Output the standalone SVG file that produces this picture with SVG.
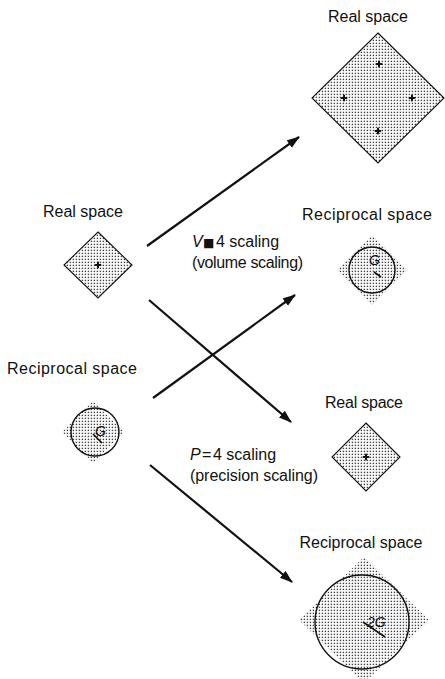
<svg xmlns="http://www.w3.org/2000/svg" width="445" height="679" viewBox="0 0 445 679">
<style>
  .lbl { font-family: "Liberation Sans", "DejaVu Sans", sans-serif; font-size: 16px; fill: #111; }
  .mid { text-anchor: middle; }
  .it { font-style: italic; }
  .g { font-family: "Liberation Sans", "DejaVu Sans", sans-serif; font-size: 14px; font-style: italic; fill: #111; }
  .real { fill: url(#stip); stroke: #111; stroke-width: 1.1; }
  .recip { fill: url(#stip); stroke: none; }
  .ring { fill: none; stroke: #111; stroke-width: 1.4; }
  .rad { stroke: #111; stroke-width: 1.6; }
  .pt { stroke: #111; stroke-width: 2; stroke-linecap: round; }
  .arr { stroke: #111; stroke-width: 2.2; fill: none; marker-end: url(#ah); }
</style>
<defs>
  <pattern id="stip" width="3" height="3" patternUnits="userSpaceOnUse">
    <rect x="0.7" y="0.7" width="1.4" height="1.4" fill="#444"/>
  </pattern>
  <marker id="ah" markerUnits="userSpaceOnUse" markerWidth="14" markerHeight="10" refX="12" refY="4.5" orient="auto">
    <path d="M0,0 L13,4.5 L0,9 z" fill="#111"/>
  </marker>
  <g id="dot">
    <path class="pt" d="M-2.5,0 H2.5 M0,-2.5 V2.5"/>
    <circle r="1.3" fill="#111"/>
  </g>
</defs>

<g id="connectors">
  <line class="arr" x1="147" y1="246" x2="299" y2="137"/>
  <line class="arr" x1="149" y1="300" x2="291" y2="422"/>
  <line class="arr" x1="153" y1="398" x2="295" y2="295"/>
  <line class="arr" x1="150" y1="465" x2="292" y2="582"/>
</g>

<g id="real-left">
  <text class="lbl mid" x="83" y="217" textLength="80">Real space</text>
  <path class="real" d="M98,232 L132,265 L98,298 L64,265 Z"/>
  <use href="#dot" x="98" y="265"/>
</g>

<g id="recip-left">
  <text class="lbl mid" x="72" y="374" textLength="130">Reciprocal space</text>
  <path class="recip" d="M93,401 L124,432 L93,463 L62,432 Z"/>
  <circle class="ring" cx="95" cy="432" r="24"/>
  <line class="rad" x1="93" y1="434" x2="102" y2="443"/>
  <text class="g" x="95" y="436">G</text>
</g>

<g id="real-top">
  <text class="lbl mid" x="368" y="22" textLength="80">Real space</text>
  <path class="real" d="M378,33 L444,98 L378,163 L312,98 Z"/>
  <use href="#dot" x="379" y="64"/>
  <use href="#dot" x="344" y="98"/>
  <use href="#dot" x="412" y="98"/>
  <use href="#dot" x="378" y="131"/>
</g>

<g id="recip-top">
  <text class="lbl mid" x="367" y="220" textLength="130">Reciprocal space</text>
  <path class="recip" d="M372,235 L407,270 L372,305 L337,270 Z"/>
  <circle class="ring" cx="372" cy="270" r="23"/>
  <line class="rad" x1="374" y1="272" x2="381" y2="277"/>
  <text class="g" x="369" y="265">G</text>
</g>

<g id="real-mid">
  <text class="lbl mid" x="364" y="408" textLength="78">Real space</text>
  <path class="real" d="M366,423 L400,457 L366,491 L332,457 Z"/>
  <use href="#dot" x="366" y="457"/>
</g>

<g id="recip-bottom">
  <text class="lbl mid" x="361" y="548" textLength="123">Reciprocal space</text>
  <path class="recip" d="M364,557 L429,620 L364,683 L299,620 Z"/>
  <circle class="ring" cx="362" cy="622" r="47"/>
  <line class="rad" x1="363" y1="622" x2="385" y2="637"/>
  <text class="g" x="367" y="627">2G</text>
</g>

<g id="labels">
  <text class="lbl" x="192" y="247"><tspan class="it">V</tspan><tspan x="203" font-family="DejaVu Sans, sans-serif" font-size="12">■</tspan><tspan x="216">4 scaling</tspan></text>
  <text class="lbl" x="192" y="268" textLength="111">(volume scaling)</text>
  <text class="lbl" x="190" y="460"><tspan class="it">P</tspan><tspan x="202">=</tspan><tspan x="213">4 scaling</tspan></text>
  <text class="lbl" x="190" y="481" textLength="128">(precision scaling)</text>
</g>
</svg>
